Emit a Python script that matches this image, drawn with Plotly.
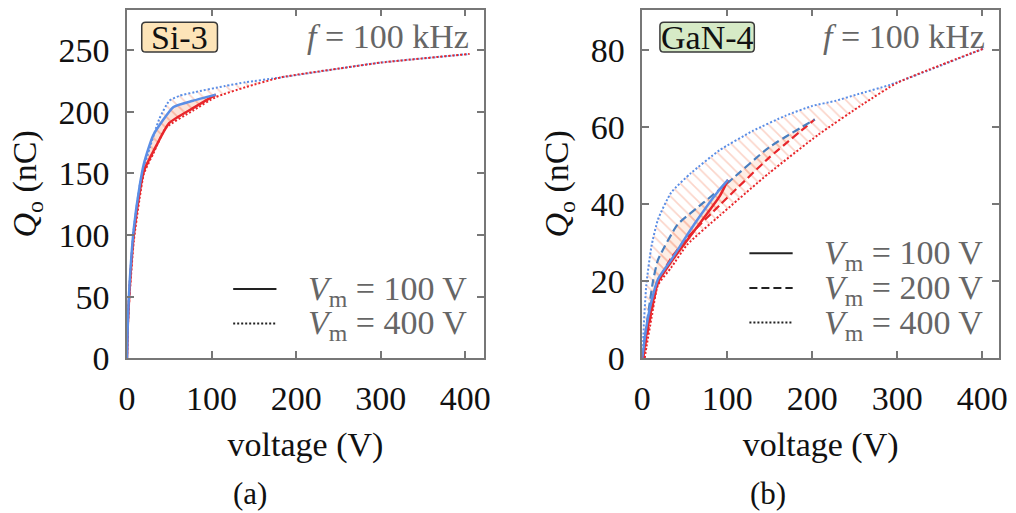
import plotly.graph_objects as go

# ---------------- data: Si-3 ----------------
si_v400_ch = [0, 1, 3, 8, 15, 20, 27, 38, 50, 62, 80, 116, 140, 182, 259, 300, 405]
si_q400_ch = [0, 30, 60, 105, 140, 155, 171, 194, 209, 213, 216, 221, 224, 228, 236, 240, 247]
si_v400_dis = [0, 1, 3, 8, 15, 20, 31, 46, 78, 105, 140, 182, 259, 300, 405]
si_q400_dis = [0, 25, 50, 95, 130, 150, 166, 187, 201, 212, 220, 228, 236, 240, 247]
si_v100_ch = [0, 1, 3, 8, 15, 20, 31, 55, 78, 105]
si_q100_ch = [0, 30, 60, 105, 140, 158, 181, 204, 209, 214]
si_v100_dis = [0, 1, 3, 8, 15, 20, 35, 50, 78, 105]
si_q100_dis = [0, 28, 55, 100, 135, 152, 173, 191, 203, 214]

# ---------------- data: GaN-4 ----------------
gan_v400_ch = [0, 1.2, 4.8, 10.8, 18.5, 34, 57, 91, 130, 169, 200, 227, 253, 292, 340, 403]
gan_q400_ch = [0, 6, 19, 29, 36, 43, 48, 54, 59, 63, 65.5, 66.8, 68.5, 71, 75, 80.5]
gan_v400_dis = [3, 5, 11, 18.5, 34, 53, 91, 149, 207, 260, 300, 350, 403]
gan_q400_dis = [0, 3, 10.5, 19, 23.5, 29.5, 37, 48, 58, 66, 71.5, 76, 80.5]
gan_v200_ch = [0, 3.5, 12.7, 18.5, 41.6, 72.8, 103, 149, 203]
gan_q200_ch = [0, 6, 20, 25.5, 34.7, 40.5, 46, 54.7, 62]
gan_v200_dis = [1, 4, 11, 18.5, 34, 53, 91, 149, 203]
gan_q200_dis = [0, 4, 12, 19.7, 26, 31.3, 39.7, 52, 62]
gan_v100_ch = [0, 4.8, 10.8, 18.5, 34, 61, 91, 101]
gan_q100_ch = [0, 8, 14.7, 20.5, 25.5, 34.7, 43.8, 46.3]
gan_v100_dis = [1, 4.8, 11, 18.5, 34, 61, 91, 101]
gan_q100_dis = [0, 6, 13, 19.7, 25, 33, 42, 46.3]

x_ticks = [0, 100, 200, 300, 400]
si_y_ticks = [0, 50, 100, 150, 200, 250]
gan_y_ticks = [0, 20, 40, 60, 80]
legend_si = ["<i>V</i><sub>m</sub> = 100 V", "<i>V</i><sub>m</sub> = 400 V"]
legend_gan = ["<i>V</i><sub>m</sub> = 100 V", "<i>V</i><sub>m</sub> = 200 V", "<i>V</i><sub>m</sub> = 400 V"]

BLUE = "#5b8ee6"
BLUE_D = "#4a7fbf"
RED = "#e8262b"
FONT = "Times New Roman, Liberation Serif, DejaVu Serif, serif"
FS = 34
W, H = 1016, 513

fig = go.Figure()


def hatch(xa, ya, xb, yb, xaxis, yaxis, solid=None):
    fig.add_trace(go.Scatter(
        x=list(xa) + list(xb)[::-1], y=list(ya) + list(yb)[::-1],
        mode="lines", line=dict(width=0, shape="spline", smoothing=0.5), fill="toself",
        fillcolor=solid if solid else "rgba(0,0,0,0)",
        fillpattern=dict(shape="\\", fgcolor="rgba(244,140,110,0.75)",
                         bgcolor=solid if solid else "rgba(0,0,0,0)",
                         size=8, solidity=0.2),
        xaxis=xaxis, yaxis=yaxis, showlegend=False, hoverinfo="skip"))


def line(x, y, color, dash, width, xaxis, yaxis):
    fig.add_trace(go.Scatter(x=x, y=y, mode="lines",
                             line=dict(color=color, dash=dash, width=width,
                                       shape="spline", smoothing=0.5),
                             xaxis=xaxis, yaxis=yaxis, showlegend=False))


# Si-3 panel
hatch(si_v400_ch, si_q400_ch, si_v400_dis, si_q400_dis, "x", "y")
hatch(si_v100_ch, si_q100_ch, si_v100_dis, si_q100_dis, "x", "y", "rgba(250,200,180,0.5)")
line(si_v400_ch, si_q400_ch, BLUE, "2px,2px", 2, "x", "y")
line(si_v400_dis, si_q400_dis, RED, "2px,2px", 2, "x", "y")
line(si_v100_dis, si_q100_dis, RED, "solid", 2.5, "x", "y")
line(si_v100_ch, si_q100_ch, BLUE, "solid", 2.5, "x", "y")

# GaN-4 panel
hatch(gan_v400_ch, gan_q400_ch, gan_v400_dis, gan_q400_dis, "x2", "y2")
hatch(gan_v200_ch, gan_q200_ch, gan_v200_dis, gan_q200_dis, "x2", "y2", "rgba(250,205,180,0.35)")
hatch(gan_v100_ch, gan_q100_ch, gan_v100_dis, gan_q100_dis, "x2", "y2", "rgba(250,205,180,0.35)")
line(gan_v400_ch, gan_q400_ch, BLUE, "2px,2px", 2, "x2", "y2")
line(gan_v400_dis, gan_q400_dis, RED, "2px,2px", 2, "x2", "y2")
line(gan_v200_dis, gan_q200_dis, RED, "8px,4px", 2.2, "x2", "y2")
line(gan_v200_ch, gan_q200_ch, BLUE_D, "8px,4px", 2.2, "x2", "y2")
line(gan_v100_dis, gan_q100_dis, RED, "solid", 2.5, "x2", "y2")
line(gan_v100_ch, gan_q100_ch, BLUE, "solid", 2.5, "x2", "y2")

AX = "#777777"
common = dict(showline=True, linecolor=AX, linewidth=1.5, mirror="ticks",
              ticks="inside", ticklen=7, tickcolor=AX, tickwidth=1.5,
              showgrid=False, zeroline=False,
              tickfont=dict(family=FONT, size=FS, color="#111"))

px = lambda p: p / W
py = lambda p: 1 - p / H

fig.update_layout(
    width=W, height=H, margin=dict(l=0, r=0, t=0, b=0),
    paper_bgcolor="white", plot_bgcolor="white",
    font=dict(family=FONT, size=FS, color="#111"),
    xaxis=dict(domain=[px(120), px(483)], range=[0, 422], tickvals=x_ticks,
               anchor="y", ticklabelstandoff=9,
               title=dict(text="voltage (V)", standoff=16,
                          font=dict(family=FONT, size=FS, color="#111")), **common),
    yaxis=dict(domain=[py(372), py(10)], range=[0, 283], tickvals=si_y_ticks,
               anchor="x", ticklabelstandoff=9,
               title=dict(text="<i>Q</i><sub>o</sub> (nC)", standoff=12,
                          font=dict(family=FONT, size=FS, color="#111")), **common),
    xaxis2=dict(domain=[px(644), px(1007)], range=[0, 420], tickvals=x_ticks,
                anchor="y2", ticklabelstandoff=9,
                title=dict(text="voltage (V)", standoff=16,
                           font=dict(family=FONT, size=FS, color="#111")), **common),
    yaxis2=dict(domain=[py(372), py(10)], range=[0, 90.5], tickvals=gan_y_ticks,
                anchor="x2", ticklabelstandoff=9,
                title=dict(text="<i>Q</i><sub>o</sub> (nC)", standoff=12,
                           font=dict(family=FONT, size=FS, color="#111")), **common),
)


def rounded_box(x0, y0, x1, y1, r, fill):
    path = (f"M {px(x0 + r)},{py(y0)} L {px(x1 - r)},{py(y0)} Q {px(x1)},{py(y0)} {px(x1)},{py(y0 + r)} "
            f"L {px(x1)},{py(y1 - r)} Q {px(x1)},{py(y1)} {px(x1 - r)},{py(y1)} "
            f"L {px(x0 + r)},{py(y1)} Q {px(x0)},{py(y1)} {px(x0)},{py(y1 - r)} "
            f"L {px(x0)},{py(y0 + r)} Q {px(x0)},{py(y0)} {px(x0 + r)},{py(y0)} Z")
    fig.add_shape(type="path", path=path, xref="paper", yref="paper",
                  fillcolor=fill, line=dict(color="#3a3a3a", width=1.5))


rounded_box(135, 23, 212, 54, 4, "#fde4b8")
rounded_box(662, 23, 758, 54, 4, "#d6eac6")

ann = []
ann.append(dict(x=px(173.5), y=py(39), text="Si-3"))
ann.append(dict(x=px(710), y=py(39), text="GaN-4"))
for a in ann:
    a.update(xref="paper", yref="paper", showarrow=False, xanchor="center", yanchor="middle",
             font=dict(family=FONT, size=FS, color="#111"))
ann.append(dict(x=px(470), y=py(38), text="<i>f</i> = 100 kHz", xref="paper", yref="paper",
                showarrow=False, xanchor="right", yanchor="middle",
                font=dict(family=FONT, size=FS, color="#666")))
ann.append(dict(x=px(995), y=py(38), text="<i>f</i> = 100 kHz", xref="paper", yref="paper",
                showarrow=False, xanchor="right", yanchor="middle",
                font=dict(family=FONT, size=FS, color="#666")))

# legends
leg_si_y = [300, 336]
leg_gan_y = [263, 299, 335]
dashes = {"solid": "solid", "dash": "8px,4px", "dot": "2px,2px"}
for yy, txt, d in zip(leg_si_y, legend_si, ["solid", "dot"]):
    fig.add_shape(type="line", xref="paper", yref="paper", x0=px(228), x1=px(272), y0=py(yy), y1=py(yy),
                  line=dict(color="#222", width=2, dash=dashes[d]))
    ann.append(dict(x=px(302), y=py(yy + 2), text=txt, xref="paper", yref="paper", showarrow=False,
                    xanchor="left", yanchor="middle", font=dict(family=FONT, size=FS, color="#666")))
for yy, txt, d in zip(leg_gan_y, legend_gan, ["solid", "dash", "dot"]):
    fig.add_shape(type="line", xref="paper", yref="paper", x0=px(753), x1=px(797), y0=py(yy), y1=py(yy),
                  line=dict(color="#222", width=2, dash=dashes[d]))
    ann.append(dict(x=px(827), y=py(yy + 2), text=txt, xref="paper", yref="paper", showarrow=False,
                    xanchor="left", yanchor="middle", font=dict(family=FONT, size=FS, color="#666")))

ann.append(dict(x=px(245), y=py(512), text="(a)", xref="paper", yref="paper", showarrow=False,
                xanchor="center", yanchor="middle", font=dict(family=FONT, size=31, color="#111")))
ann.append(dict(x=px(772), y=py(512), text="(b)", xref="paper", yref="paper", showarrow=False,
                xanchor="center", yanchor="middle", font=dict(family=FONT, size=31, color="#111")))
fig.update_layout(annotations=ann)

fig.write_html("out.html")
